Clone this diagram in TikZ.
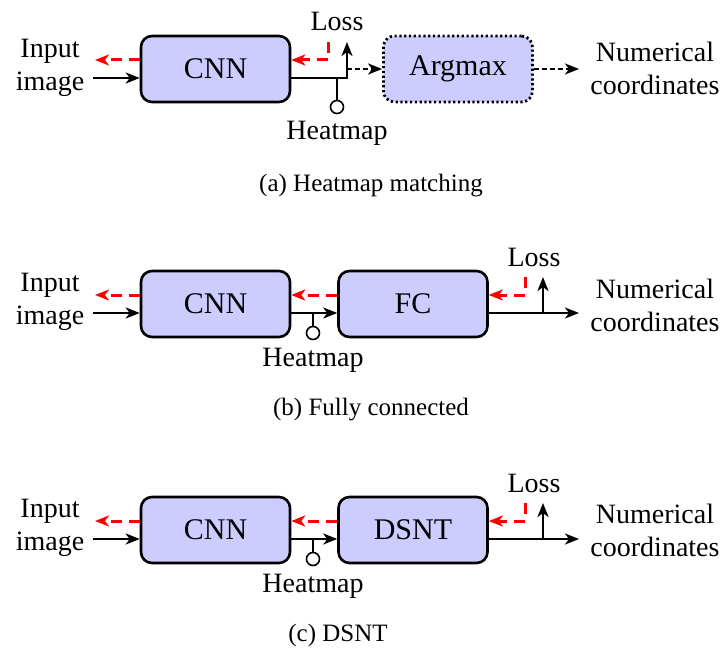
\documentclass[tikz,border=0pt]{standalone}
\usepackage{fontspec}
\setmainfont{Liberation Serif}
\usetikzlibrary{arrows.meta,positioning}
\newcommand{\lblfont}{\fontsize{28}{33}\selectfont}
\newcommand{\bxfont}{\fontsize{30}{36}\selectfont}
\newcommand{\capfont}{\fontsize{25}{30}\selectfont}
\tikzset{
  blockbox/.style={draw, line width=2.6pt, rounded corners=11pt, fill=blue!20,
    minimum width=149pt, minimum height=66pt, inner sep=0pt, font=\bxfont},
  dotbox/.style={blockbox, line width=2.8pt, dash pattern=on 2.2pt off 2.6pt},
  lbl/.style={align=center, inner sep=0pt, font=\lblfont},
  captxt/.style={inner sep=0pt, font=\capfont},
  arr/.style={line width=2.6pt, -{Stealth[length=14pt,width=11pt,inset=4pt]}},
  dotarr/.style={arr, dash pattern=on 5pt off 3pt},
  redarr/.style={line width=3pt, red, dash pattern=on 11pt off 7pt,
    -{Stealth[length=14pt,width=11pt,inset=4pt]}},
  stem/.style={line width=1.6pt},
  knob/.style={circle, draw, line width=1.6pt, fill=white, minimum size=13pt, inner sep=0pt}
}
\begin{document}
\begin{tikzpicture}[x=1pt,y=-1pt]
\useasboundingbox (0,0) rectangle (727,650);
% ---------------- panel (a)
\node[blockbox] (cnnA) at (215.5,69) {CNN};
\node[dotbox] (argA) at (458,69) {Argmax};
\node[lbl] (inA) at (50,68) {Input\\image};
\node[lbl] (outA) at (655,68) {Numerical\\coordinates};
\node[lbl] (lossA) at (337,21) {Loss};
\node[lbl] (hmtA) at (337,133) {Heatmap};
\node[knob] (knA) at (337,107) {};
\node[captxt] (capA) at (371,186) {(a) Heatmap matching};
\coordinate (srcA) at (93,78);
\coordinate (ltA) at (347,42);
\coordinate (hA) at (337,78);
\coordinate (dA) at (347,69);
\coordinate (rsA) at (328,42);
\coordinate (reA) at (95,60);
\coordinate (oeA) at (579,69);
\draw[arr] (srcA) -- ([yshift=-9pt]cnnA.west);
\draw[redarr] ([yshift=9pt]cnnA.west) -- (reA);
\draw[stem] (hA) -- (knA.north);
\draw[arr] ([yshift=-9pt]cnnA.east) -| (ltA);
\draw[redarr] (rsA) |- ([yshift=9pt]cnnA.east);
\draw[dotarr] (dA) -- (argA.west);
\draw[dotarr] (argA.east) -- (oeA);
% ---------------- panel (b)
\node[blockbox] (cnnB) at (215.5,304) {CNN};
\node[blockbox] (fcB) at (413,304) {FC};
\node[lbl] (inB) at (50,302) {Input\\image};
\node[lbl] (outB) at (655,305) {Numerical\\coordinates};
\node[lbl] (lossB) at (534,257) {Loss};
\node[lbl] (hmtB) at (313,360) {Heatmap};
\node[knob] (knB) at (313,333) {};
\node[captxt] (capB) at (371,410) {(b) Fully connected};
\coordinate (srcB) at (93,313);
\coordinate (reB) at (95,295);
\coordinate (hB) at (313,313);
\coordinate (lbB) at (543,313);
\coordinate (ltB) at (543,277);
\coordinate (rsB) at (525,277);
\coordinate (oeB) at (579,313);
\draw[arr] (srcB) -- ([yshift=-9pt]cnnB.west);
\draw[redarr] ([yshift=9pt]cnnB.west) -- (reB);
\draw[stem] (hB) -- (knB.north);
\draw[arr] ([yshift=-9pt]cnnB.east) -- ([yshift=-9pt]fcB.west);
\draw[redarr] ([yshift=9pt]fcB.west) -- ([yshift=9pt]cnnB.east);
\draw[arr] ([yshift=-9pt]fcB.east) -- (oeB);
\draw[arr] (lbB) -- (ltB);
\draw[redarr] (rsB) |- ([yshift=9pt]fcB.east);
% ---------------- panel (c)
\node[blockbox] (cnnC) at (215.5,530) {CNN};
\node[blockbox] (dsC) at (413,530) {DSNT};
\node[lbl] (inC) at (50,528) {Input\\image};
\node[lbl] (outC) at (655,530) {Numerical\\coordinates};
\node[lbl] (lossC) at (534,483) {Loss};
\node[lbl] (hmtC) at (313,586) {Heatmap};
\node[knob] (knC) at (313,559) {};
\node[captxt] (capC) at (338,635) {(c) DSNT};
\coordinate (srcC) at (93,539);
\coordinate (reC) at (95,521);
\coordinate (hC) at (313,539);
\coordinate (lbC) at (543,539);
\coordinate (ltC) at (543,503);
\coordinate (rsC) at (525,503);
\coordinate (oeC) at (579,539);
\draw[arr] (srcC) -- ([yshift=-9pt]cnnC.west);
\draw[redarr] ([yshift=9pt]cnnC.west) -- (reC);
\draw[stem] (hC) -- (knC.north);
\draw[arr] ([yshift=-9pt]cnnC.east) -- ([yshift=-9pt]dsC.west);
\draw[redarr] ([yshift=9pt]dsC.west) -- ([yshift=9pt]cnnC.east);
\draw[arr] ([yshift=-9pt]dsC.east) -- (oeC);
\draw[arr] (lbC) -- (ltC);
\draw[redarr] (rsC) |- ([yshift=9pt]dsC.east);
\end{tikzpicture}
\end{document}
